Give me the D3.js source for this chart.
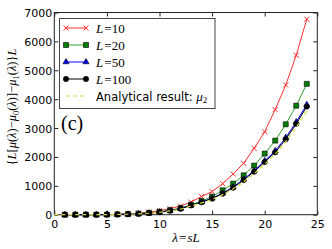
<!DOCTYPE html>
<html lang="en">
<head>
    <meta charset="UTF-8">
    <title>Scaled mu difference</title>
    <script src="https://cdn.jsdelivr.net/npm/d3@7"></script>
    <style>
        body { margin: 0; background: #fff; }
        .tick text { font-family: "DejaVu Sans", sans-serif; font-size: 11px; fill: #000; }
        .serif { font-family: "Liberation Serif", "DejaVu Serif", serif; }
    </style>
</head>
<body>
    <svg id="main" width="332" height="249"></svg>
    <script>
        // data
        let lambda = d3.range(1, 25);
        let L10  = [0, 0, 1, 2, 6, 14, 28, 52, 88, 140, 210, 300, 440, 630, 800, 1075, 1410, 1780, 2300, 2870, 3640, 4490, 5520, 6770];
        let L20  = [0, 0, 0, 1, 4, 10, 20, 37, 62, 100, 155, 230, 345, 470, 625, 845, 1075, 1365, 1700, 2115, 2565, 3130, 3775, 4530];
        let L50  = [0, 0, 0, 1, 3, 8, 17, 32, 56, 92, 140, 212, 325, 440, 570, 745, 960, 1230, 1525, 1865, 2210, 2670, 3210, 3810];
        let L100 = [0, 0, 0, 1, 3, 8, 17, 31, 55, 90, 138, 205, 320, 430, 555, 728, 936, 1200, 1490, 1825, 2160, 2610, 3145, 3745];
        let lambdaA = d3.range(0, 25);
        let analytic = [0, 0, 0, 0, 1, 3, 7, 15, 29, 51, 84, 130, 195, 300, 410, 530, 695, 895, 1140, 1420, 1750, 2100, 2530, 3030, 3600];
        let xTicks = [0, 5, 10, 15, 20, 25];
        let yTicks = [0, 1000, 2000, 3000, 4000, 5000, 6000, 7000];

        let svg = d3.select('svg#main');
        let plot = {left: 54.3, right: 317.3, top: 12.5, bottom: 214.7};

        let xScale = d3.scaleLinear().domain([0, 25]).range([plot.left, plot.right]);
        let yScale = d3.scaleLinear().domain([0, 7000]).range([plot.bottom, plot.top]);

        // axes: ticks pointing inward on all four sides
        let gx = svg.append('g').attr('transform', `translate(0,${plot.bottom})`)
            .call(d3.axisBottom(xScale).tickValues(xTicks).tickSize(-4).tickPadding(6));
        let gy = svg.append('g').attr('transform', `translate(${plot.left},0)`)
            .call(d3.axisLeft(yScale).tickValues(yTicks).tickSize(-4).tickPadding(2).tickFormat(d3.format('d')));
        svg.append('g').attr('transform', `translate(0,${plot.top})`)
            .call(d3.axisTop(xScale).tickValues(xTicks).tickSize(-4).tickFormat(''));
        svg.append('g').attr('transform', `translate(${plot.right},0)`)
            .call(d3.axisRight(yScale).tickValues(yTicks).tickSize(-4).tickFormat(''));
        svg.selectAll('.domain').remove();
        svg.selectAll('.tick line').attr('stroke', '#222');
        gy.selectAll('.tick text').attr('dy', '0.36em');

        svg.append('rect')
            .attr('x', plot.left).attr('y', plot.top)
            .attr('width', plot.right - plot.left).attr('height', plot.bottom - plot.top)
            .attr('fill', 'none').attr('stroke', '#222').attr('stroke-width', 1);

        // series
        let series = [
            {name: '10', vals: L10, line: '#ff3030', fill: '#ff3030', marker: 'x'},
            {name: '20', vals: L20, line: '#2f9f2f', fill: '#007f00', marker: 'square'},
            {name: '50', vals: L50, line: '#0000ff', fill: '#0000ff', marker: 'triangle'},
            {name: '100', vals: L100, line: '#000', fill: '#000', marker: 'circle'}
        ];
        let symbolOf = {
            square: d3.symbol(d3.symbolSquare, 25),
            triangle: d3.symbol(d3.symbolTriangle, 16),
            circle: d3.symbol(d3.symbolCircle, 22)
        };

        function drawMarker(g, s, x, y){
            if (s.marker === 'x'){
                g.append('path')
                    .attr('d', `M${x-2.5},${y-2.5}L${x+2.5},${y+2.5}M${x-2.5},${y+2.5}L${x+2.5},${y-2.5}`)
                    .attr('stroke', s.fill).attr('stroke-width', 1).attr('fill', 'none');
            } else {
                g.append('path')
                    .attr('d', symbolOf[s.marker]())
                    .attr('transform', `translate(${x},${y})`)
                    .attr('fill', s.fill).attr('stroke', '#000').attr('stroke-width', 0.6);
            }
        }

        let line = d3.line()
            .x(function(d){ return xScale(d[0]); })
            .y(function(d){ return yScale(d[1]); });

        series.forEach(function(s){
            let pts = lambda.map(function(l, i){ return [l, s.vals[i]]; });
            let g = svg.append('g');
            g.append('path').datum(pts)
                .attr('d', line).attr('fill', 'none')
                .attr('stroke', s.line).attr('stroke-width', 1);
            pts.forEach(function(p){ drawMarker(g, s, xScale(p[0]), yScale(p[1])); });
        });

        let apts = lambdaA.map(function(l, i){ return [l, analytic[i]]; });
        svg.append('path').datum(apts)
            .attr('d', line.curve(d3.curveMonotoneX))
            .attr('fill', 'none').attr('stroke', '#d8d840')
            .attr('stroke-width', 1.2).attr('stroke-dasharray', '4,3');

        // legend
        let leg = svg.append('g');
        leg.append('rect').attr('x', 59.5).attr('y', 18.5).attr('width', 155.5).attr('height', 90)
            .attr('fill', '#fff').attr('stroke', '#444').attr('stroke-width', 1);
        let rowY = [28, 45, 62, 79, 96];
        series.forEach(function(s, i){
            leg.append('line').attr('x1', 66).attr('x2', 86).attr('y1', rowY[i]).attr('y2', rowY[i])
                .attr('stroke', s.line).attr('stroke-width', 1);
            drawMarker(leg, s, 66, rowY[i]);
            drawMarker(leg, s, 86, rowY[i]);
            let t = leg.append('text').attr('class', 'serif').attr('x', 96).attr('y', rowY[i] + 4.5)
                .attr('font-size', 13);
            t.append('tspan').attr('font-style', 'italic').text('L');
            t.append('tspan').text('\u200a=' + s.name);
        });
        leg.append('line').attr('x1', 66).attr('x2', 86).attr('y1', rowY[4]).attr('y2', rowY[4])
            .attr('stroke', '#d8d840').attr('stroke-width', 1.2).attr('stroke-dasharray', '4,3');
        let ta = leg.append('text').attr('x', 96).attr('y', rowY[4] + 4.5)
            .attr('font-family', '"DejaVu Sans", sans-serif').attr('font-size', 11.5);
        ta.append('tspan').text('Analytical result: ');
        ta.append('tspan').attr('class', 'serif').attr('font-style', 'italic').attr('font-size', 13).text('\u03bc');
        ta.append('tspan').attr('class', 'serif').attr('font-size', 9).attr('dy', 2.5).text('2');

        // panel tag
        svg.append('text').attr('class', 'serif').attr('x', 61).attr('y', 130)
            .attr('font-size', 20).text('(c)');

        // axis labels
        let xl = svg.append('text').attr('class', 'serif').attr('x', 186).attr('y', 241.5)
            .attr('text-anchor', 'middle').attr('font-size', 13);
        xl.append('tspan').attr('font-style', 'italic').text('\u03bb');
        xl.append('tspan').text('\u200a=\u200a');
        xl.append('tspan').attr('font-style', 'italic').text('sL');

        let yl = svg.append('text').attr('class', 'serif')
            .attr('transform', 'translate(16,107) rotate(-90)')
            .attr('text-anchor', 'middle').attr('font-size', 12.5);
        let parts = [
            ['{', 'n'], ['L', 'i'], ['[', 'n'], ['\u03bc', 'i'], ['(', 'n'], ['\u03bb', 'i'], [')\u2212', 'n'],
            ['\u03bc', 'i'], ['0', 's'], ['(', 'n'], ['\u03bb', 'i'], [')]\u2212', 'n'],
            ['\u03bc', 'i'], ['1', 's'], ['(', 'n'], ['\u03bb', 'i'], [')}', 'n'], ['L', 'i']
        ];
        let prevSub = false;
        parts.forEach(function(p){
            let ts = yl.append('tspan').text(p[0]);
            if (p[1] === 'i') ts.attr('font-style', 'italic');
            if (p[1] === 's'){ ts.attr('font-size', 8.5).attr('dy', 2.5); prevSub = true; }
            else if (prevSub){ ts.attr('dy', -2.5); prevSub = false; }
        });
    </script>
</body>
</html>
